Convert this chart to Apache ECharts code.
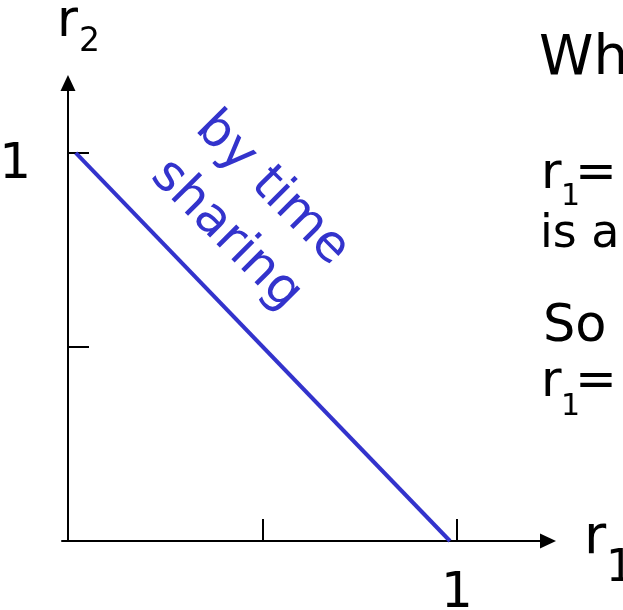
<!DOCTYPE html>
<html>
<head>
<meta charset="utf-8">
<script src="https://cdn.jsdelivr.net/npm/echarts@6/dist/echarts.min.js"></script>
<style>
  html, body { margin: 0; padding: 0; background: #fff; }
  #chart { width: 623px; height: 610px; }
</style>
</head>
<body>
<div id="chart"></div>
<script>
// time-sharing rate line, r1 -> r2
const lineR1 = [0.02, 0.982]
const lineR2 = [1, 0]
const xTickValues = [0.5, 1]
const yTickValues = [0.5, 1]
const xLabelValues = [1]
const yLabelValues = [1]
const lineLabel = 'by time\nsharing'
const sideLines = ['Wh', 'is a', 'So']

const FONT = '"DejaVu Sans", sans-serif'
const BLUE = '#3333cc'

// put text by its baseline (verticalAlign middle sits ~0.29em above baseline)
function txt(text, x, base, size, color) {
  return {
    type: 'text',
    x: x,
    y: base - 0.29 * size,
    silent: true,
    style: {
      text: text,
      fill: color || '#000',
      fontSize: size,
      fontFamily: FONT,
      textAlign: 'left',
      textVerticalAlign: 'middle',
      align: 'left',
      verticalAlign: 'middle',
    },
  }
}

const chart = echarts.init(document.getElementById('chart'))

const axisCommon = {
  type: 'value',
  axisLine: {
    onZero: true,
    symbol: ['none', 'triangle'],
    symbolSize: [15, 16],
    lineStyle: { color: '#000', width: 2 },
  },
  splitLine: { show: false },
}

chart.setOption({
  backgroundColor: '#fff',
  animation: false,
  grid: {
    left: 62, right: 75, top: 83, bottom: 69,
    containLabel: false,
    outerBoundsMode: 'none',
  },
  xAxis: {
    ...axisCommon,
    min: -0.0154,
    max: 1.234,
    axisTick: {
      inside: true,
      length: 22,
      customValues: xTickValues,
      lineStyle: { color: '#000', width: 2 },
    },
    axisLabel: {
      customValues: xLabelValues,
      margin: 28,
      fontSize: 50,
      fontFamily: FONT,
      color: '#000',
    },
  },
  yAxis: {
    ...axisCommon,
    min: 0,
    max: 1.18,
    axisTick: {
      inside: true,
      length: 21,
      customValues: yTickValues,
      lineStyle: { color: '#000', width: 2 },
    },
    axisLabel: {
      customValues: yLabelValues,
      margin: 31,
      fontSize: 50,
      fontFamily: FONT,
      color: '#000',
      verticalAlign: 'top',
      lineHeight: 24,
    },
  },
  series: [
    {
      type: 'line',
      data: lineR1.map((v, i) => [v, lineR2[i]]),
      symbol: 'none',
      lineStyle: { color: BLUE, width: 4 },
    },
  ],
  graphic: [
    // axis names
    txt('r', 57, 38, 51),
    txt('2', 79, 52, 33),
    txt('r', 584, 555, 54),
    txt('1', 606, 582, 44),
    // label along the line
    {
      type: 'text',
      x: 249,
      y: 212,
      rotation: -Math.PI / 4,
      silent: true,
      style: {
        text: lineLabel,
        fill: BLUE,
        fontSize: 51,
        fontFamily: FONT,
        lineHeight: 65,
        textAlign: 'center',
        textVerticalAlign: 'middle',
        align: 'center',
        verticalAlign: 'middle',
      },
    },
    // side notes, cut by the right edge
    txt(sideLines[0], 539, 76, 55),
    txt('r', 541, 190, 50),
    txt('1', 561, 206, 30),
    txt('=', 575, 190, 50),
    txt(sideLines[1], 540, 248, 46),
    txt(sideLines[2], 543, 343, 51),
    txt('r', 541, 398, 50),
    txt('1', 561, 416, 30),
    txt('=', 575, 398, 50),
  ],
})
</script>
</body>
</html>
